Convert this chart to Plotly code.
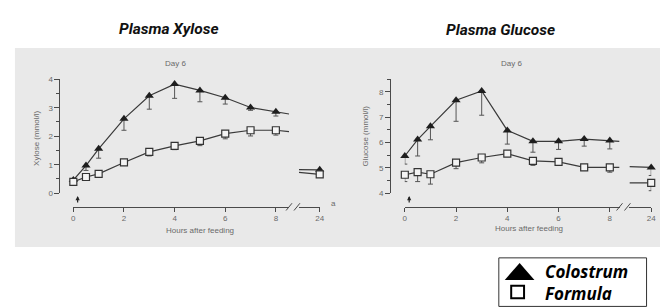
import plotly.graph_objects as go

W, H = 668, 307
def px(x): return x / W
def py(y): return 1 - y / H

# ---------------- data ----------------
hours = [0, 0.5, 1, 2, 3, 4, 5, 6, 7, 8]

# Plasma xylose (mmol/l)
xyl_col = [0.46, 0.97, 1.56, 2.61, 3.42, 3.83, 3.61, 3.35, 3.01, 2.86]
xyl_col_err = [0.05, 0.17, 0.33, 0.40, 0.47, 0.50, 0.40, 0.22, 0.10, 0.15]
xyl_for = [0.40, 0.57, 0.68, 1.08, 1.45, 1.66, 1.84, 2.09, 2.21, 2.21]
xyl_for_err = [0.03, 0.04, 0.04, 0.05, 0.14, 0.13, 0.17, 0.18, 0.20, 0.17]
xyl_col_tail = 2.78
xyl_for_tail = 2.16
xyl_col_24 = 0.82
xyl_col_24_err = 0.08
xyl_for_24 = 0.66
xyl_col_24_lead = 0.83
xyl_for_24_lead = 0.73

# Plasma glucose (mmol/l)
glu_col = [5.47, 6.12, 6.64, 7.67, 8.04, 6.48, 6.05, 6.05, 6.14, 6.08]
glu_col_err = [0.32, 0.65, 0.53, 0.83, 0.96, 0.54, 0.43, 0.32, 0.28, 0.33]
glu_for = [4.73, 4.83, 4.75, 5.21, 5.41, 5.56, 5.28, 5.24, 5.02, 5.02]
glu_for_err = [0.27, 0.37, 0.39, 0.24, 0.21, 0.09, 0.18, 0.08, 0.10, 0.19]
glu_col_tail = 6.05
glu_for_tail = 5.02
glu_col_24 = 5.02
glu_col_24_err = 0.32
glu_for_24 = 4.41
glu_for_24_err = 0.31
glu_col_24_lead = 5.05
glu_for_24_lead = 4.41

xyl_ticks = [0, 1, 2, 3, 4]
glu_ticks = [4, 5, 6, 7, 8]
hour_ticks = [0, 2, 4, 6, 8]
late_ticks = [24]

# ---------------- styling ----------------
LINE = "#3a3a3a"
AX = "#4a4a4a"
TXT = "#6a6a6a"
TRI = dict(symbol="triangle-up", size=8, color="#1e1e1e", line=dict(width=0))
SQ = dict(symbol="square", size=7, color="#f4f4f4", line=dict(color="#333", width=1.2))
ERR = dict(color="#555", thickness=1, width=2.5)

fig = go.Figure()

def add_series(xa, ya, xs, ys, errs, marker, tail_x, tail_y, x24_lead, y24_lead, y24, err24, xa24):
    fig.add_trace(go.Scatter(x=xs + [tail_x], y=ys + [tail_y], mode="lines",
                             line=dict(color=LINE, width=1.2), xaxis=xa, yaxis=ya,
                             showlegend=False, hoverinfo="skip"))
    fig.add_trace(go.Scatter(x=xs, y=ys, mode="markers", marker=marker,
                             error_y=dict(type="data", symmetric=False,
                                          array=[0] * len(errs), arrayminus=errs, **ERR),
                             xaxis=xa, yaxis=ya, cliponaxis=False, showlegend=False))
    fig.add_trace(go.Scatter(x=[x24_lead, 24], y=[y24_lead, y24], mode="lines",
                             line=dict(color=LINE, width=1.2), xaxis=xa24, yaxis=ya,
                             showlegend=False, hoverinfo="skip"))
    fig.add_trace(go.Scatter(x=[24], y=[y24], mode="markers", marker=marker,
                             error_y=dict(type="data", symmetric=False, array=[0],
                                          arrayminus=[err24], **ERR),
                             xaxis=xa24, yaxis=ya, cliponaxis=False, showlegend=False))

L_XMAX = 8.52
R_XMAX = 8.38
L_LATE0 = 23.18
R_LATE0 = 23.15

add_series("x", "y", hours, xyl_col, xyl_col_err, TRI, L_XMAX, xyl_col_tail,
           L_LATE0, xyl_col_24_lead, xyl_col_24, xyl_col_24_err, "x3")
add_series("x", "y", hours, xyl_for, xyl_for_err, SQ, L_XMAX, xyl_for_tail,
           L_LATE0, xyl_for_24_lead, xyl_for_24, 0, "x3")
add_series("x2", "y2", hours, glu_col, glu_col_err, TRI, R_XMAX, glu_col_tail,
           R_LATE0, glu_col_24_lead, glu_col_24, glu_col_24_err, "x4")
add_series("x2", "y2", hours, glu_for, glu_for_err, SQ, R_XMAX, glu_for_tail,
           R_LATE0, glu_for_24_lead, glu_for_24, glu_for_24_err, "x4")

tickfont = dict(family="Liberation Sans, Arial", size=8, color=TXT)
common_x = dict(anchor="free", showline=True, linecolor=AX, linewidth=1, ticks="outside",
                ticklen=4, tickcolor=AX, showgrid=False, zeroline=False, tickfont=tickfont,
                fixedrange=True)
common_y = dict(anchor="free", showline=True, linecolor=AX, linewidth=1, ticks="outside",
                ticklen=5, tickcolor=AX, showgrid=False, zeroline=False, tickfont=tickfont,
                minor=dict(dtick=0.5, ticks="outside", ticklen=3, tickcolor=AX),
                fixedrange=True)

fig.update_layout(
    width=W, height=H, autosize=False,
    margin=dict(l=0, r=0, t=0, b=0),
    paper_bgcolor="white", plot_bgcolor="rgba(0,0,0,0)",
    showlegend=False,
    xaxis=dict(domain=[px(64), px(282)], range=[0, L_XMAX], position=py(200.7),
               tickvals=hour_ticks, **common_x),
    xaxis3=dict(domain=[px(292), px(313)], range=[L_LATE0, 24], position=py(200.7),
                tickvals=late_ticks, **common_x),
    yaxis=dict(domain=[py(186.7), py(69.3)], range=[0, 4], position=px(50),
               tickvals=xyl_ticks, **common_y),
    xaxis2=dict(domain=[px(399), px(616)], range=[0, R_XMAX], position=py(200.7),
                tickvals=hour_ticks, **common_x),
    xaxis4=dict(domain=[px(626), px(648)], range=[R_LATE0, 24], position=py(200.7),
                tickvals=late_ticks, **common_x),
    yaxis2=dict(domain=[py(186.7), py(69.3)], range=[4, 8.5], position=px(384),
                tickvals=glu_ticks, **common_y),
)

shapes = [
    dict(type="rect", xref="paper", yref="paper", x0=px(5), x1=1, y0=py(242), y1=py(37),
         fillcolor="#e9e9e9", line=dict(width=0), layer="below"),
]
for x0 in (279, 287, 613, 621):
    shapes.append(dict(type="line", xref="paper", yref="paper",
                       x0=px(x0), y0=py(204.5), x1=px(x0 + 6), y1=py(197),
                       line=dict(color=AX, width=1)))
shapes += [
    dict(type="rect", xref="paper", yref="paper", x0=px(494), x1=px(643.3),
         y0=py(303.3), y1=py(253.3), line=dict(color="#333", width=1), fillcolor="white"),
    dict(type="path", xref="paper", yref="paper",
         path=f"M {px(500)} {py(276)} L {px(515)} {py(258.5)} L {px(530)} {py(276)} Z",
         fillcolor="black", line=dict(width=0)),
    dict(type="rect", xref="paper", yref="paper", x0=px(506.5), x1=px(519.5),
         y0=py(295), y1=py(282), line=dict(color="black", width=2), fillcolor="white"),
]
fig.update_layout(shapes=shapes)

title_font = dict(family="Roboto", size=15.5, color="#111", weight="bold", style="italic")
small = dict(family="Liberation Sans, Arial", size=8, color=TXT)
leg_font = dict(family="Open Sans", size=17, color="black", weight="bold", style="italic")

ann = [
    dict(text="Plasma Xylose", x=px(161), y=py(18), font=title_font),
    dict(text="Plasma Glucose", x=px(496), y=py(19), font=title_font),
    dict(text="Day 6", x=px(167), y=py(53), font=small),
    dict(text="Day 6", x=px(507), y=py(53), font=small),
    dict(text="Xylose (mmol/l)", x=px(26), y=py(130), textangle=-90, font=small),
    dict(text="Glucose (mmol/l)", x=px(359), y=py(128), textangle=-90, font=small),
    dict(text="Hours after feeding", x=px(192), y=py(225), font=small),
    dict(text="Hours after feeding", x=px(525), y=py(223), font=small),
    dict(text="a", x=px(327), y=py(197), font=small),
    dict(text="b", x=px(662), y=py(197), font=small),
    dict(text="Colostrum", x=px(540), y=py(267.5), xanchor="left", font=leg_font, borderpad=0),
    dict(text="Formula", x=px(540), y=py(290), xanchor="left", font=leg_font, borderpad=0),
]
for a in ann:
    a.setdefault("xref", "paper")
    a.setdefault("yref", "paper")
    a.setdefault("showarrow", False)
    a.setdefault("xanchor", "center")
    a.setdefault("yanchor", "middle")

for xr in ("x", "x2"):
    ann.append(dict(text="", x=0.17, y=py(189.5), xref=xr, yref="paper", showarrow=True,
                    ax=0, ay=8, arrowhead=2, arrowsize=0.7, arrowwidth=1.2,
                    arrowcolor="#222"))

fig.update_layout(annotations=ann)

fig.write_html("out.html")
